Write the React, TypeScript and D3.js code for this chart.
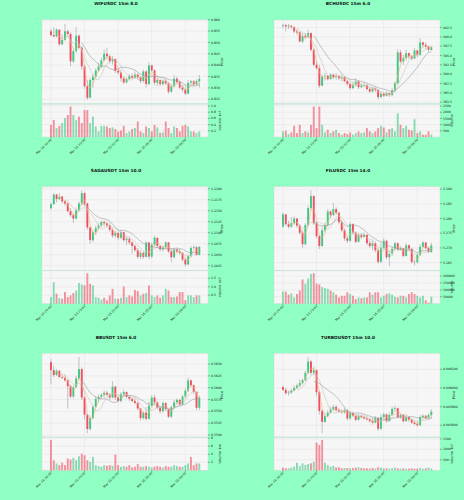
import React from 'react';
import * as d3 from 'd3';

const BG = '#8fffc4';
const PLOT_BG = '#f6f6f6';
const GRID = '#e2e2e2';
const UP = '#3dc985';
const DOWN = '#ef4f60';
const WICK = '#a9a9a9';
const MA_WINDOWS = [3, 6, 12];
const MA_COLORS = ['#f0b57c', '#c6c6c6', '#9c9c9c'];

const xTickIdx = [0, 12, 24, 36, 48];
const xTickLabels = ['Mar 14 20:00', 'Mar 14 23:00', 'Mar 15 02:00', 'Mar 15 05:00', 'Mar 15 08:00'];

// ---------- WIFUSDC ----------
const wifOpen0 = 0.8549;
const wifClose = [0.85325,0.85265,0.85565,0.8492,0.85115,0.8549,0.8537,0.8417,0.8462,0.85295,0.8477,0.83945,0.83075,0.82565,0.83345,0.83495,0.83765,0.83945,0.84215,0.845,0.84395,0.8417,0.84275,0.8375,0.83675,0.8342,0.8324,0.8339,0.83525,0.83435,0.83585,0.83465,0.833,0.8372,0.83165,0.8399,0.83765,0.83225,0.83345,0.83165,0.83315,0.83195,0.82835,0.83075,0.83405,0.83255,0.83015,0.82925,0.82745,0.83225,0.83285,0.83165,0.833,0.8339];
const wifHigh = [0.85595,0.8567,0.85625,0.85565,0.8537,0.8582,0.85565,0.85445,0.84695,0.8567,0.8537,0.84845,0.8402,0.83345,0.8342,0.83615,0.8387,0.84095,0.8432,0.84695,0.8477,0.8447,0.84395,0.84275,0.8387,0.83795,0.83525,0.83465,0.83615,0.83645,0.8372,0.83645,0.83525,0.83795,0.83765,0.84125,0.8402,0.83825,0.8342,0.83375,0.83375,0.8342,0.8327,0.83165,0.8357,0.83495,0.83315,0.8312,0.83015,0.83345,0.83345,0.83345,0.83375,0.8357];
const wifLow = [0.85265,0.8522,0.8522,0.84845,0.84875,0.8507,0.85295,0.83945,0.84095,0.84545,0.84695,0.83795,0.8297,0.82475,0.82595,0.83015,0.8342,0.8372,0.8387,0.8417,0.84245,0.84065,0.8402,0.83645,0.8357,0.8327,0.83165,0.83195,0.83315,0.83345,0.8342,0.83345,0.83195,0.83225,0.83015,0.8312,0.83675,0.8312,0.83075,0.83075,0.83105,0.8312,0.82745,0.82775,0.83015,0.83195,0.82925,0.8282,0.82685,0.82715,0.83165,0.83075,0.8312,0.83015];
const wifVol = [0.39,0.55,0.29,0.36,0.45,0.61,0.71,0.98,0.71,0.55,0.66,0.45,0.87,0.87,0.45,0.66,0.34,0.18,0.36,0.36,0.34,0.29,0.31,0.26,0.18,0.21,0.36,0.13,0.18,0.26,0.29,0.5,0.18,0.13,0.34,0.29,0.18,0.39,0.31,0.13,0.15,0.5,0.29,0.13,0.34,0.29,0.18,0.36,0.39,0.34,0.18,0.18,0.13,0.18];
const wifPriceTicks = [0.825,0.83,0.835,0.84,0.845,0.85,0.855,0.86];
const wifVolTicks = [0.2,0.4,0.6,0.8,1.0];

// ---------- BCHUSDC ----------
const bchOpen0 = 402.94;
const bchClose = [403.12,402.77,402.94,402.59,401.43,401.16,398.75,400.27,399.91,400.98,396.51,392.5,391.6,386.87,389.37,389.55,388.66,389.82,389.19,389.55,388.84,389.19,388.12,387.41,386.25,387.14,388.03,386.51,386.87,387.05,385.98,385.35,386.16,385.8,383.83,384.73,384.19,384.91,384.37,385.62,387.58,395.8,393.39,394.28,395.62,394.73,394.19,396.34,395.18,398.48,397.85,397.41,396.51,397.23];
const bchHigh = [403.48,403.48,403.48,403.21,402.77,402.05,401.43,400.98,400.98,401.87,401.16,396.96,393.39,392.5,389.82,390.26,389.82,390.26,390.09,390.26,389.73,389.82,389.37,388.48,387.76,387.76,388.92,388.3,387.58,387.76,387.41,386.51,386.69,386.51,385.98,385.08,385.08,385.35,385.08,386.25,388.03,396.69,396.51,395.18,396.51,395.8,395.18,396.96,396.51,399.64,398.75,398.48,397.59,397.59];
const bchLow = [402.32,401.43,402.05,402.05,400.98,400.53,398.48,398.3,399.37,399.64,396.07,392.05,391.16,386.25,387.14,388.3,388.3,388.48,388.66,388.48,388.48,388.03,387.76,386.87,385.8,385.98,386.69,385.98,386.25,386.51,385.62,384.91,385.08,385.26,383.12,383.57,383.83,384.01,383.83,384.01,385.35,387.41,392.94,392.5,393.66,394.01,393.66,394.01,394.55,394.91,397.23,396.69,395.98,396.34];
const bchVol = [453,507,240,373,907,320,987,320,453,373,987,2453,720,2453,987,373,587,320,453,587,320,187,320,240,373,187,320,453,320,373,720,453,320,453,720,907,773,373,640,720,453,1920,987,720,907,587,533,1440,320,453,187,187,453,187];
const bchPriceTicks = [382.5,385,387.5,390,392.5,395,397.5,400,402.5];
const bchVolTicks = [500,1000,1500,2000,2500];

// ---------- SAGAUSDT ----------
const sagaOpen0 = 1.21556;
const sagaClose = [1.21649,1.21867,1.21766,1.21821,1.21712,1.21665,1.21493,1.214,1.21322,1.21509,1.21665,1.21899,1.21665,1.2112,1.20831,1.21011,1.21104,1.21166,1.21244,1.21213,1.21166,1.21065,1.20933,1.20995,1.20886,1.21011,1.20831,1.20855,1.20777,1.20699,1.20605,1.2045,1.20543,1.2045,1.20777,1.20457,1.2073,1.20886,1.20699,1.20621,1.20668,1.20777,1.20574,1.20442,1.20621,1.20574,1.20543,1.20387,1.20278,1.20465,1.20652,1.20668,1.20496,1.20676];
const sagaHigh = [1.21688,1.21899,1.21883,1.21899,1.21844,1.21743,1.21688,1.21556,1.21431,1.21571,1.21712,1.21961,1.21922,1.21688,1.21143,1.21065,1.21166,1.21221,1.21275,1.21275,1.2126,1.21221,1.21104,1.21042,1.21026,1.21065,1.21026,1.20909,1.20909,1.20808,1.2073,1.20652,1.20598,1.20574,1.20808,1.20792,1.20777,1.20933,1.2087,1.20714,1.20699,1.20808,1.20792,1.20621,1.20652,1.20652,1.20637,1.20559,1.20418,1.20496,1.20699,1.20714,1.20699,1.20699];
const sagaLow = [1.21532,1.21634,1.21688,1.21743,1.21665,1.2161,1.21455,1.21353,1.21221,1.21299,1.21478,1.21634,1.2161,1.21065,1.20753,1.20792,1.20948,1.21065,1.2112,1.21143,1.2112,1.21026,1.20886,1.20886,1.20831,1.20855,1.20792,1.20714,1.2073,1.2052,1.20559,1.20403,1.20403,1.20403,1.20434,1.20403,1.20418,1.20699,1.20652,1.20574,1.20574,1.20621,1.20543,1.20325,1.20418,1.20543,1.20496,1.20341,1.20232,1.20263,1.20442,1.20621,1.20481,1.20481];
const sagaVol = [0.39,1.27,0.59,0.33,0.29,0.69,0.39,0.49,0.63,0.78,1.22,1.14,1.08,1.8,1.18,1.08,0.39,0.35,0.24,0.35,0.2,0.49,0.88,0.29,0.29,0.35,1.02,0.39,0.49,0.43,0.82,0.75,0.49,0.59,0.63,1.08,0.49,0.39,0.49,0.35,0.49,0.88,0.78,0.39,0.39,0.43,0.69,0.69,0.2,0.49,0.49,0.39,0.49,0.49];
const sagaPriceTicks = [1.2025,1.205,1.2075,1.21,1.2125,1.215,1.2175,1.22];
const sagaVolTicks = [0.5,1.0,1.5];

// ---------- FILUSDC ----------
const filOpen0 = 5.27721;
const filClose = [5.28139,5.27805,5.27721,5.2784,5.27996,5.27757,5.27517,5.27123,5.27781,5.28355,5.28761,5.2784,5.27398,5.27063,5.27601,5.27781,5.28235,5.28115,5.28319,5.28187,5.27876,5.27601,5.27326,5.27242,5.27805,5.27517,5.27207,5.27446,5.27374,5.27446,5.27159,5.27063,5.27159,5.26919,5.26525,5.27003,5.27242,5.2668,5.268,5.26967,5.27159,5.26943,5.26991,5.26728,5.27087,5.26967,5.26525,5.26513,5.26764,5.27039,5.27183,5.26991,5.26872,5.27087];
const filHigh = [5.28199,5.28163,5.27924,5.28044,5.2808,5.2802,5.27805,5.27601,5.2784,5.28438,5.28953,5.28797,5.279,5.27446,5.27721,5.27876,5.28319,5.28283,5.28522,5.28379,5.28259,5.27924,5.27661,5.27398,5.27876,5.2784,5.27565,5.27517,5.27517,5.27517,5.27446,5.27242,5.27242,5.27207,5.27003,5.27183,5.27326,5.27278,5.26884,5.27039,5.27207,5.27183,5.27063,5.27003,5.27159,5.27123,5.27003,5.26609,5.26824,5.27123,5.27242,5.27207,5.27039,5.27183];
const filLow = [5.27685,5.27757,5.27661,5.27685,5.27781,5.27685,5.27446,5.27003,5.27087,5.27721,5.28283,5.27781,5.27326,5.26967,5.27039,5.27541,5.27721,5.2802,5.2808,5.28115,5.27805,5.27541,5.27242,5.27159,5.27207,5.27446,5.27159,5.27183,5.27302,5.2735,5.27087,5.27003,5.26919,5.26848,5.26465,5.26489,5.26943,5.26609,5.26369,5.26728,5.26919,5.26884,5.26919,5.2668,5.26704,5.26919,5.26465,5.26405,5.26465,5.26728,5.27003,5.26943,5.26824,5.26824];
const filVol = [87500,87500,65000,75000,45000,70000,95000,175000,145000,182500,215000,220000,145000,140000,120000,112500,107500,95000,82500,65000,45000,57500,57500,82500,70000,57500,32500,45000,40000,45000,45000,82500,65000,82500,82500,45000,57500,70000,75000,65000,50000,45000,57500,57500,45000,70000,82500,70000,57500,45000,57500,25000,7500,50000];
const filPriceTicks = [5.265,5.27,5.275,5.28,5.285,5.29];
const filVolTicks = [50000,100000,150000,200000];

// ---------- BBUSDT ----------
const bbOpen0 = 0.56537;
const bbClose = [0.5637,0.56269,0.56356,0.56226,0.56211,0.56154,0.56031,0.55814,0.56009,0.56197,0.56392,0.55792,0.55431,0.55128,0.55359,0.55597,0.55764,0.55807,0.5585,0.55894,0.5585,0.55792,0.56024,0.55792,0.5572,0.55865,0.55908,0.55807,0.55764,0.5572,0.55677,0.55561,0.55359,0.55475,0.55344,0.55619,0.55792,0.55691,0.55576,0.55503,0.55677,0.55547,0.55388,0.5559,0.55691,0.55742,0.55648,0.55814,0.55937,0.56154,0.56053,0.55908,0.55576,0.55792];
const bbHigh = [0.56609,0.56464,0.56392,0.5637,0.56298,0.56284,0.56175,0.56067,0.56053,0.56248,0.56645,0.56428,0.55814,0.55453,0.55417,0.55633,0.55814,0.5585,0.55886,0.55937,0.55937,0.55886,0.56139,0.56031,0.55836,0.55908,0.55959,0.55922,0.55836,0.55792,0.55778,0.55706,0.55576,0.55503,0.55597,0.55706,0.55836,0.5585,0.5572,0.55597,0.55706,0.55691,0.55561,0.55619,0.55742,0.55778,0.55764,0.5585,0.5598,0.56211,0.56175,0.56067,0.55922,0.55836];
const bbLow = [0.56067,0.56226,0.56248,0.56197,0.56175,0.56125,0.55561,0.55778,0.55778,0.55995,0.56154,0.55742,0.5533,0.55041,0.55092,0.5533,0.55576,0.55691,0.55764,0.55792,0.55814,0.55742,0.55778,0.55742,0.55691,0.55691,0.55814,0.55778,0.5572,0.55691,0.55648,0.55525,0.55308,0.5533,0.55308,0.5533,0.55597,0.55648,0.55547,0.55453,0.55475,0.55503,0.55359,0.55359,0.55561,0.55648,0.55619,0.55619,0.55792,0.55908,0.56009,0.55865,0.55525,0.55525];
const bbVol = [7.56,2.52,1.71,1.3,1.87,1.3,2.93,2.68,3.09,2.52,3.5,4.15,3.74,2.52,2.11,3.33,1.3,1.06,0.89,1.3,1.14,1.3,1.14,3.9,1.3,0.89,1.06,0.89,1.3,0.73,0.89,1.54,0.89,0.89,1.06,0.89,0.73,0.89,1.06,0.89,0.65,1.06,0.89,0.89,1.3,1.06,0.89,0.89,1.3,1.71,3.33,1.3,1.71,1.71];
const bbPriceTicks = [0.55,0.5525,0.555,0.5575,0.56,0.5625,0.565];
const bbVolTicks = [2,4,6,8];

// ---------- TURBOUSDT ----------
const turboOpen0 = 0.00601;
const turboClose = [0.00598,0.005944,0.005951,0.005973,0.006002,0.006024,0.006053,0.006083,0.006163,0.006284,0.006163,0.006192,0.005955,0.005754,0.005637,0.005699,0.005735,0.005772,0.005797,0.005761,0.005746,0.005739,0.005761,0.005673,0.005732,0.005702,0.005659,0.005702,0.005688,0.005673,0.005662,0.005644,0.005629,0.00568,0.005563,0.005688,0.005717,0.005644,0.00571,0.005776,0.005783,0.005688,0.00571,0.005644,0.005688,0.005659,0.005629,0.005615,0.0056,0.005688,0.005702,0.00568,0.00571,0.005746];
const turboHigh = [0.006028,0.006002,0.005973,0.005991,0.006028,0.006046,0.00609,0.006101,0.006185,0.006331,0.006302,0.006229,0.0062,0.005973,0.005772,0.005735,0.005761,0.005797,0.005819,0.005819,0.005783,0.005768,0.005783,0.005772,0.005754,0.005746,0.005724,0.005724,0.005717,0.00571,0.005699,0.00568,0.005688,0.005699,0.005688,0.005717,0.005735,0.005724,0.005735,0.005797,0.005808,0.00579,0.005724,0.005717,0.00571,0.005699,0.005673,0.005651,0.005644,0.00571,0.005717,0.00571,0.005724,0.005772];
const turboLow = [0.005966,0.005929,0.005918,0.005936,0.005966,0.005991,0.00601,0.006039,0.006075,0.006148,0.006137,0.006137,0.005918,0.005717,0.005516,0.005626,0.005688,0.005724,0.005754,0.005746,0.005732,0.005724,0.005724,0.005651,0.005659,0.005688,0.005644,0.005651,0.005673,0.005662,0.005651,0.005629,0.005607,0.005622,0.005542,0.005549,0.005673,0.005626,0.005637,0.005702,0.005754,0.005673,0.005666,0.005629,0.005637,0.005637,0.005615,0.0056,0.005585,0.005593,0.00568,0.005666,0.005673,0.005673];
const turboVol = [127,95,95,127,175,365,206,333,254,302,333,413,1317,1206,1444,365,254,175,206,143,143,95,111,111,95,111,127,143,111,95,95,79,111,79,143,127,95,95,79,95,127,95,79,95,79,79,95,79,79,111,79,95,127,79];
const turboPriceTicks = [0.0056,0.0058,0.006,0.0062];
const turboVolTicks = [500,1000,1500];

type ChartDef = {
  title: string; col: number; row: number;
  open0: number; close: number[]; high: number[]; low: number[]; vol: number[];
  priceTicks: number[]; priceDigits: number; volTicks: number[]; volDigits: number; volExp: string;
};

const charts: ChartDef[] = [
  { title: 'WIFUSDC 15m 8.0', col: 0, row: 0, open0: wifOpen0, close: wifClose, high: wifHigh, low: wifLow, vol: wifVol, priceTicks: wifPriceTicks, priceDigits: 3, volTicks: wifVolTicks, volDigits: 1, volExp: '1e7' },
  { title: 'BCHUSDC 15m 6.0', col: 1, row: 0, open0: bchOpen0, close: bchClose, high: bchHigh, low: bchLow, vol: bchVol, priceTicks: bchPriceTicks, priceDigits: 1, volTicks: bchVolTicks, volDigits: 0, volExp: '' },
  { title: 'SAGAUSDT 15m 10.0', col: 0, row: 1, open0: sagaOpen0, close: sagaClose, high: sagaHigh, low: sagaLow, vol: sagaVol, priceTicks: sagaPriceTicks, priceDigits: 4, volTicks: sagaVolTicks, volDigits: 1, volExp: '1e7' },
  { title: 'FILUSDC 15m 14.0', col: 1, row: 1, open0: filOpen0, close: filClose, high: filHigh, low: filLow, vol: filVol, priceTicks: filPriceTicks, priceDigits: 3, volTicks: filVolTicks, volDigits: 0, volExp: '' },
  { title: 'BBUSDT 15m 6.0', col: 0, row: 2, open0: bbOpen0, close: bbClose, high: bbHigh, low: bbLow, vol: bbVol, priceTicks: bbPriceTicks, priceDigits: 4, volTicks: bbVolTicks, volDigits: 0, volExp: '1e6' },
  { title: 'TURBOUSDT 15m 10.0', col: 1, row: 2, open0: turboOpen0, close: turboClose, high: turboHigh, low: turboLow, vol: turboVol, priceTicks: turboPriceTicks, priceDigits: 6, volTicks: turboVolTicks, volDigits: 0, volExp: '1e7' },
];

const FONT = 'DejaVu Sans, sans-serif';

function Chart({ c }: { c: ChartDef }) {
  const colX = c.col * 232;
  const rowY = c.row * (500 / 3);
  const L = colX + 42, R = colX + 208;
  const pT = rowY + 20, pB = rowY + 103.6, vT = rowY + 104.2, vB = rowY + 137;
  const n = c.close.length;
  const x = d3.scaleLinear().domain([-3.2, n - 1 + 3.1]).range([L, R]);
  const open = c.close.map((_, i) => (i === 0 ? c.open0 : c.close[i - 1]));
  const lo = d3.min(c.low)!, hi = d3.max(c.high)!;
  const pad = (hi - lo) * 0.05;
  const y = d3.scaleLinear().domain([lo - pad, hi + pad]).range([pB, pT]);
  const yv = d3.scaleLinear().domain([0, d3.max(c.vol)! * 1.08]).range([vB, vT]);
  const step = x(1) - x(0);
  const bw = step * 0.68;

  const maPaths = MA_WINDOWS.map((w) => {
    const pts = c.close.map((_, i) => (i >= w - 1 ? d3.mean(c.close.slice(i - w + 1, i + 1))! : null));
    const line = d3.line<number | null>()
      .defined((d) => d !== null)
      .x((_, i) => x(i))
      .y((d) => y(d as number));
    return line(pts) || '';
  });

  const fs = 3.1;
  return (
    <g>
      <text x={colX + 116} y={rowY + 5.3} textAnchor="middle" fontSize={4.3} fontWeight="bold" fontFamily={FONT} fill="#111">{c.title}</text>
      <rect x={L} y={pT} width={R - L} height={pB - pT} fill={PLOT_BG} stroke="#d4d4d4" strokeWidth={0.4} />
      <rect x={L} y={vT} width={R - L} height={vB - vT} fill={PLOT_BG} stroke="#d4d4d4" strokeWidth={0.4} />
      {xTickIdx.map((t) => (
        <g key={'gx' + t}>
          <line x1={x(t)} x2={x(t)} y1={pT} y2={pB} stroke={GRID} strokeWidth={0.5} />
          <line x1={x(t)} x2={x(t)} y1={vT} y2={vB} stroke={GRID} strokeWidth={0.5} />
        </g>
      ))}
      {c.priceTicks.map((t) => (
        <g key={'py' + t}>
          <line x1={L} x2={R} y1={y(t)} y2={y(t)} stroke={GRID} strokeWidth={0.5} />
          <line x1={R} x2={R + 1.8} y1={y(t)} y2={y(t)} stroke="#333" strokeWidth={0.4} />
          <text x={R + 3} y={y(t)} dy="0.35em" fontSize={fs} fontFamily={FONT} fill="#222">{t.toFixed(c.priceDigits)}</text>
        </g>
      ))}
      {c.volTicks.map((t) => (
        <g key={'vy' + t}>
          <line x1={L} x2={R} y1={yv(t)} y2={yv(t)} stroke={GRID} strokeWidth={0.5} />
          <line x1={R} x2={R + 1.8} y1={yv(t)} y2={yv(t)} stroke="#333" strokeWidth={0.4} />
          <text x={R + 3} y={yv(t)} dy="0.35em" fontSize={fs} fontFamily={FONT} fill="#222">{t.toFixed(c.volDigits)}</text>
        </g>
      ))}
      {/* wicks */}
      {c.close.map((cl, i) => {
        const h = Math.max(c.high[i], cl, open[i]);
        const l = Math.min(c.low[i], cl, open[i]);
        return <line key={'w' + i} x1={x(i)} x2={x(i)} y1={y(h)} y2={y(l)} stroke={WICK} strokeWidth={0.7} />;
      })}
      {/* bodies */}
      {c.close.map((cl, i) => {
        const up = cl >= open[i];
        const y1 = y(Math.max(cl, open[i]));
        const y2 = y(Math.min(cl, open[i]));
        return <rect key={'b' + i} x={x(i) - bw / 2} y={y1} width={bw} height={Math.max(0.4, y2 - y1)} fill={up ? UP : DOWN} />;
      })}
      {maPaths.map((p, k) => (
        <path key={'ma' + k} d={p} fill="none" stroke={MA_COLORS[k]} strokeWidth={0.6} />
      ))}
      {/* volume */}
      {c.vol.map((v, i) => {
        const up = c.close[i] >= open[i];
        return <rect key={'v' + i} x={x(i) - bw / 2} y={yv(v)} width={bw} height={vB - yv(v)} fill={up ? UP : DOWN} fillOpacity={0.6} />;
      })}
      {/* x ticks */}
      {xTickIdx.map((t, k) => (
        <g key={'xt' + t}>
          <line x1={x(t)} x2={x(t)} y1={vB} y2={vB + 1.5} stroke="#333" strokeWidth={0.4} />
          <text transform={`translate(${x(t) + 1},${vB + 3}) rotate(-45)`} textAnchor="end" fontSize={fs} fontFamily={FONT} fill="#222">{xTickLabels[k]}</text>
        </g>
      ))}
      <text transform={`translate(${colX + 222.5},${(pT + pB) / 2}) rotate(-90)`} textAnchor="middle" fontSize={3.4} fontFamily={FONT} fill="#222">Price</text>
      <text transform={`translate(${colX + 221},${(vT + vB) / 2}) rotate(-90)`} textAnchor="middle" fontSize={3.4} fontFamily={FONT} fill="#222">
        {'Volume'}{c.volExp ? <tspan dx="1.5" fontSize={3}>{c.volExp}</tspan> : null}
      </text>
    </g>
  );
}

export default function App() {
  return (
    <svg width={464} height={500} viewBox="0 0 464 500" style={{ position: 'absolute', left: 0, top: 0, display: 'block' }}>
      <rect x={0} y={0} width={464} height={500} fill={BG} />
      {charts.map((c) => (
        <Chart key={c.title} c={c} />
      ))}
    </svg>
  );
}
